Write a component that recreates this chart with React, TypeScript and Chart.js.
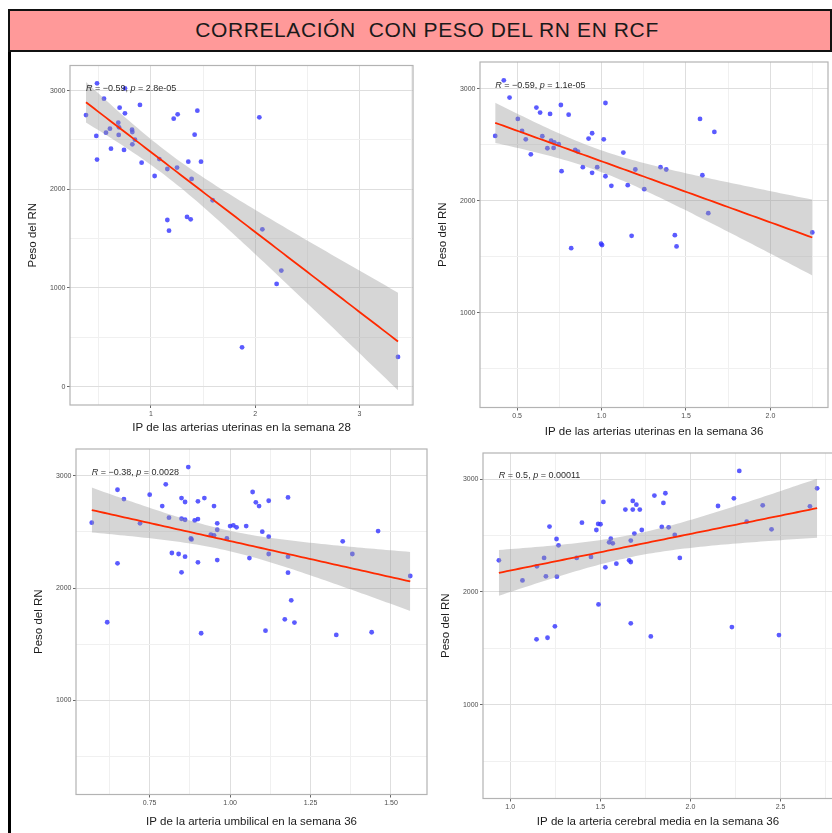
import React, { useEffect, useRef } from 'react';
import { Chart, registerables } from 'chart.js';

Chart.register(...registerables);

// ---------------- DATA ----------------
const titleText = 'CORRELACIÓN  CON PESO DEL RN EN RCF';
const yTitle = 'Peso del RN';

// Panel 1: IP arterias uterinas semana 28
const p1X = [0.376, 0.482, 0.549, 0.475, 0.482, 0.568, 0.606, 0.616, 0.686, 0.690, 0.699, 0.693, 0.750, 0.741, 0.750, 0.818, 0.821, 0.821, 0.846, 0.894, 0.910, 1.035, 1.080, 1.157, 1.157, 1.173, 1.218, 1.256, 1.250, 1.358, 1.346, 1.381, 1.390, 1.419, 1.445, 1.480, 1.592, 2.040, 2.069, 1.874, 2.206, 2.251, 3.371];
const p1Y = [2753, 3074, 2919, 2541, 2301, 2574, 2615, 2412, 2676, 2551, 2828, 2628, 2770, 2399, 3024, 2605, 2581, 2456, 2503, 2855, 2270, 2135, 2307, 2206, 1689, 1581, 2716, 2760, 2220, 2280, 1720, 1696, 2105, 2554, 2797, 2280, 1889, 2730, 1595, 399, 1041, 1176, 301];
const p1XTitle = 'IP de las arterias uterinas en la semana 28';
const p1Label = ['R', ' = \u22120.59, ', 'p', ' = 2.8e-05'];
const p1XRange = [0.2226, 3.515];
const p1YRange = [-186, 3255];
const p1XMajor = [1, 2, 3];
const p1XMajorLabels = ['1', '2', '3'];
const p1XMinor = [0.5, 1.5, 2.5, 3.5];
const p1YMajor = [0, 1000, 2000, 3000];
const p1YMajorLabels = ['0', '1000', '2000', '3000'];
const p1YMinor = [500, 1500, 2500];

// Panel 2: IP arterias uterinas semana 36
const p2X = [0.370, 0.421, 0.455, 0.504, 0.529, 0.551, 0.581, 0.614, 0.636, 0.649, 0.679, 0.695, 0.701, 0.716, 0.720, 0.746, 0.759, 0.763, 0.805, 0.820, 0.844, 0.860, 0.889, 0.923, 0.944, 0.944, 0.974, 0.997, 1.003, 1.013, 1.023, 1.023, 1.058, 1.129, 1.155, 1.178, 1.200, 1.253, 1.349, 1.383, 1.434, 1.444, 1.583, 1.597, 1.632, 1.668, 2.248];
const p2Y = [2581, 3077, 2923, 2733, 2626, 2551, 2417, 2834, 2789, 2578, 2471, 2777, 2539, 2474, 2524, 2507, 2857, 2266, 2771, 1579, 2456, 2441, 2302, 2557, 2605, 2251, 2302, 1618, 1606, 2551, 2875, 2221, 2135, 2432, 2141, 1689, 2281, 2105, 2302, 2281, 1695, 1594, 2733, 2230, 1891, 2617, 1719];
const p2XTitle = 'IP de las arterias uterinas en la semana 36';
const p2Label = ['R', ' = \u22120.59, ', 'p', ' = 1.1e-05'];
const p2XRange = [0.28, 2.341];
const p2YRange = [156, 3241];
const p2XMajor = [0.5, 1.0, 1.5, 2.0];
const p2XMajorLabels = ['0.5', '1.0', '1.5', '2.0'];
const p2XMinor = [0.75, 1.25, 1.75, 2.25];
const p2YMajor = [1000, 2000, 3000];
const p2YMajorLabels = ['1000', '2000', '3000'];
const p2YMinor = [500, 1500, 2500];

// Panel 3: IP arteria umbilical semana 36
const p3X = [0.570, 0.618, 0.650, 0.650, 0.670, 0.720, 0.750, 0.789, 0.800, 0.810, 0.819, 0.840, 0.849, 0.849, 0.849, 0.860, 0.860, 0.860, 0.870, 0.880, 0.878, 0.890, 0.900, 0.900, 0.900, 0.910, 0.920, 0.940, 0.950, 0.950, 0.960, 0.960, 0.960, 0.990, 1.000, 1.010, 1.020, 1.050, 1.060, 1.070, 1.080, 1.090, 1.100, 1.110, 1.120, 1.120, 1.120, 1.170, 1.180, 1.180, 1.180, 1.190, 1.200, 1.330, 1.350, 1.380, 1.440, 1.460, 1.560];
const p3Y = [2582, 1695, 2875, 2220, 2792, 2576, 2831, 2730, 2923, 2626, 2312, 2303, 2801, 2617, 2140, 2766, 2608, 2279, 3077, 2433, 2442, 2602, 2772, 2614, 2229, 1597, 2801, 2475, 2730, 2469, 2576, 2519, 2249, 2442, 2552, 2558, 2540, 2552, 2267, 2855, 2763, 2730, 2502, 1620, 2777, 2457, 2303, 1721, 2807, 2279, 2137, 1890, 1692, 1582, 2416, 2303, 1606, 2507, 2107];
const p3XTitle = 'IP de la arteria umbilical en la semana 36';
const p3Label = ['R', ' = \u22120.38, ', 'p', ' = 0.0028'];
const p3XRange = [0.521, 1.612];
const p3YRange = [161, 3238];
const p3XMajor = [0.75, 1.0, 1.25, 1.5];
const p3XMajorLabels = ['0.75', '1.00', '1.25', '1.50'];
const p3XMinor = [0.625, 0.875, 1.125, 1.375];
const p3YMajor = [1000, 2000, 3000];
const p3YMajorLabels = ['1000', '2000', '3000'];
const p3YMinor = [500, 1500, 2500];

// Panel 4: IP arteria cerebral media semana 36
const p4X = [0.937, 1.068, 1.146, 1.148, 1.188, 1.198, 1.207, 1.218, 1.248, 1.257, 1.259, 1.268, 1.369, 1.398, 1.448, 1.478, 1.488, 1.490, 1.501, 1.517, 1.528, 1.549, 1.558, 1.569, 1.589, 1.639, 1.660, 1.669, 1.669, 1.669, 1.680, 1.680, 1.689, 1.700, 1.719, 1.730, 1.780, 1.800, 1.841, 1.850, 1.861, 1.879, 1.913, 1.941, 2.153, 2.230, 2.241, 2.271, 2.312, 2.401, 2.450, 2.491, 2.663, 2.703];
const p4Y = [2281, 2103, 1580, 2228, 2302, 2139, 1594, 2580, 1695, 2470, 2136, 2414, 2302, 2615, 2311, 2550, 2604, 1890, 2601, 2799, 2219, 2441, 2473, 2432, 2251, 2731, 2281, 2456, 2266, 1722, 2808, 2731, 2518, 2775, 2731, 2550, 1606, 2855, 2577, 2790, 2876, 2574, 2506, 2302, 2763, 1689, 2831, 3074, 2624, 2769, 2556, 1618, 2760, 2920];
const p4XTitle = 'IP de la arteria cerebral media en la semana 36';
const p4Label = ['R', ' = 0.5, ', 'p', ' = 0.00011'];
const p4XRange = [0.849, 2.791];
const p4YRange = [168, 3233];
const p4XMajor = [1.0, 1.5, 2.0, 2.5];
const p4XMajorLabels = ['1.0', '1.5', '2.0', '2.5'];
const p4XMinor = [1.25, 1.75, 2.25, 2.75];
const p4YMajor = [1000, 2000, 3000];
const p4YMajorLabels = ['1000', '2000', '3000'];
const p4YMinor = [500, 1500, 2500];

// ---------------- LAYOUT (positions / styles) ----------------
const FONT = "'Liberation Sans', Arial, sans-serif";

type Box = { left: number; top: number; w: number; h: number; l: number; t: number; r: number; b: number; yTitleX: number; xTitleY: number };

const layouts: Box[] = [
  { left: 14, top: 50, w: 406, h: 390, l: 70, t: 65.5, r: 413, b: 405, yTitleX: 33, xTitleY: 428 },
  { left: 424, top: 50, w: 408, h: 392, l: 480, t: 62, r: 829.5, b: 407.5, yTitleX: 442.5, xTitleY: 432 },
  { left: 20, top: 440, w: 412, h: 393, l: 76, t: 449, r: 427, b: 794.5, yTitleX: 39, xTitleY: 822 },
  { left: 427, top: 444, w: 412, h: 389, l: 483, t: 453, r: 833, b: 798.5, yTitleX: 446, xTitleY: 822 },
];

type Panel = {
  xs: number[]; ys: number[]; xTitle: string; label: string[];
  xRange: number[]; yRange: number[];
  xMajor: number[]; xMajorLabels: string[]; xMinor: number[];
  yMajor: number[]; yMajorLabels: string[]; yMinor: number[];
};

const panels: Panel[] = [
  { xs: p1X, ys: p1Y, xTitle: p1XTitle, label: p1Label, xRange: p1XRange, yRange: p1YRange, xMajor: p1XMajor, xMajorLabels: p1XMajorLabels, xMinor: p1XMinor, yMajor: p1YMajor, yMajorLabels: p1YMajorLabels, yMinor: p1YMinor },
  { xs: p2X, ys: p2Y, xTitle: p2XTitle, label: p2Label, xRange: p2XRange, yRange: p2YRange, xMajor: p2XMajor, xMajorLabels: p2XMajorLabels, xMinor: p2XMinor, yMajor: p2YMajor, yMajorLabels: p2YMajorLabels, yMinor: p2YMinor },
  { xs: p3X, ys: p3Y, xTitle: p3XTitle, label: p3Label, xRange: p3XRange, yRange: p3YRange, xMajor: p3XMajor, xMajorLabels: p3XMajorLabels, xMinor: p3XMinor, yMajor: p3YMajor, yMajorLabels: p3YMajorLabels, yMinor: p3YMinor },
  { xs: p4X, ys: p4Y, xTitle: p4XTitle, label: p4Label, xRange: p4XRange, yRange: p4YRange, xMajor: p4XMajor, xMajorLabels: p4XMajorLabels, xMinor: p4XMinor, yMajor: p4YMajor, yMajorLabels: p4YMajorLabels, yMinor: p4YMinor },
];

// Linear model fit with 95% confidence band (as in geom_smooth(method = "lm"))
function fitBand(xs: number[], ys: number[], nOut = 80) {
  const n = xs.length;
  const mx = xs.reduce((a, v) => a + v, 0) / n;
  const my = ys.reduce((a, v) => a + v, 0) / n;
  let sxx = 0, sxy = 0;
  for (let i = 0; i < n; i++) {
    sxx += (xs[i] - mx) * (xs[i] - mx);
    sxy += (xs[i] - mx) * (ys[i] - my);
  }
  const b = sxy / sxx;
  const a = my - b * mx;
  let sse = 0;
  for (let i = 0; i < n; i++) {
    const e = ys[i] - (a + b * xs[i]);
    sse += e * e;
  }
  const df = n - 2;
  const s = Math.sqrt(sse / df);
  const t = 1.959964 + 2.372 / df + 2.82 / (df * df);
  const xmin = Math.min(...xs);
  const xmax = Math.max(...xs);
  const line: { x: number; y: number }[] = [];
  const upper: { x: number; y: number }[] = [];
  const lower: { x: number; y: number }[] = [];
  for (let i = 0; i < nOut; i++) {
    const x0 = xmin + ((xmax - xmin) * i) / (nOut - 1);
    const yh = a + b * x0;
    const se = s * Math.sqrt(1 / n + ((x0 - mx) * (x0 - mx)) / sxx);
    line.push({ x: x0, y: yh });
    upper.push({ x: x0, y: yh + t * se });
    lower.push({ x: x0, y: yh - t * se });
  }
  return { line, upper, lower };
}

const near = (arr: number[], v: number) => arr.findIndex((m) => Math.abs(m - v) < 1e-9);

const panelBorder = {
  id: 'panelBorder',
  afterDatasetsDraw(chart: any) {
    const { ctx, chartArea } = chart;
    const { left, top, right, bottom } = chartArea;
    ctx.save();
    ctx.strokeStyle = '#B3B3B3';
    ctx.lineWidth = 1.2;
    ctx.strokeRect(left, top, right - left, bottom - top);
    ctx.restore();
  },
};

const corLabel = {
  id: 'corLabel',
  afterDatasetsDraw(chart: any, _args: any, opts: any) {
    if (!opts || !opts.parts) return;
    const { ctx } = chart;
    const xs = chart.scales.x;
    const ys = chart.scales.y;
    let px = xs.getPixelForValue(opts.x);
    const py = ys.getPixelForValue(opts.y) + 0.5;
    ctx.save();
    ctx.fillStyle = '#2b2b2b';
    ctx.textBaseline = 'top';
    ctx.textAlign = 'left';
    opts.parts.forEach((p: string, i: number) => {
      ctx.font = (i % 2 === 0 ? 'italic ' : '') + '9px ' + FONT;
      ctx.fillText(p, px, py);
      px += ctx.measureText(p).width;
    });
    ctx.restore();
  },
};

function makeConfig(p: Panel, box: Box): any {
  const pts = p.xs.map((x, i) => ({ x, y: p.ys[i] }));
  const fit = fitBand(p.xs, p.ys);
  const yAxisW = box.l - box.left;
  const xAxisH = box.top + box.h - box.b;
  const titleSize = 11.5;
  const xTicks = [...p.xMajor, ...p.xMinor].sort((a, b) => a - b);
  const yTicks = [...p.yMajor, ...p.yMinor].sort((a, b) => a - b);
  const gridColor = (major: number[]) => (c: any) =>
    c.tick && near(major, c.tick.value) >= 0 ? '#DEDEDE' : '#F0F0F0';
  const tickColor = (major: number[]) => (c: any) =>
    c.tick && near(major, c.tick.value) >= 0 ? '#666666' : 'rgba(0,0,0,0)';
  return {
    type: 'scatter',
    data: {
      datasets: [
        { type: 'line', data: fit.lower, showLine: true, borderWidth: 0, pointRadius: 0, fill: false, order: 1 },
        { type: 'line', data: fit.upper, showLine: true, borderWidth: 0, pointRadius: 0, fill: '-1', backgroundColor: 'rgba(153,153,153,0.4)', order: 1 },
        { type: 'line', data: fit.line, showLine: true, borderColor: '#FF2A00', borderWidth: 1.8, pointRadius: 0, fill: false, order: 0 },
        { type: 'scatter', data: pts, pointRadius: 2.4, pointBackgroundColor: 'rgba(50,50,255,0.8)', backgroundColor: 'rgba(50,50,255,0.8)', borderWidth: 0, pointBorderWidth: 0, order: 2 },
      ],
    },
    options: {
      responsive: false,
      animation: false,
      events: [],
      layout: { padding: { left: 0, top: box.t - box.top, right: box.left + box.w - box.r, bottom: 0 } },
      plugins: {
        legend: { display: false },
        tooltip: { enabled: false },
        corLabel: { parts: p.label, x: Math.min(...p.xs), y: Math.max(...p.ys) },
      },
      scales: {
        x: {
          type: 'linear',
          min: p.xRange[0],
          max: p.xRange[1],
          afterBuildTicks: (s: any) => { s.ticks = xTicks.map((v) => ({ value: v })); },
          afterFit: (s: any) => { s.height = xAxisH; },
          ticks: {
            autoSkip: false,
            maxRotation: 0,
            minRotation: 0,
            padding: 1.5,
            color: '#4D4D4D',
            font: { size: 7, family: FONT },
            callback: (v: number) => { const k = near(p.xMajor, v); return k >= 0 ? p.xMajorLabels[k] : ''; },
          },
          grid: { color: gridColor(p.xMajor), lineWidth: 1, drawTicks: true, tickLength: 3, tickColor: tickColor(p.xMajor), tickWidth: 1 },
          border: { display: false },
          title: {
            display: true,
            text: p.xTitle,
            color: '#1A1A1A',
            font: { size: titleSize, family: FONT, lineHeight: 1 },
            padding: { top: 0, bottom: box.top + box.h - box.xTitleY - titleSize / 2 },
          },
        },
        y: {
          type: 'linear',
          min: p.yRange[0],
          max: p.yRange[1],
          afterBuildTicks: (s: any) => { s.ticks = yTicks.map((v) => ({ value: v })); },
          afterFit: (s: any) => { s.width = yAxisW; },
          ticks: {
            autoSkip: false,
            padding: 1.5,
            color: '#4D4D4D',
            font: { size: 7, family: FONT },
            callback: (v: number) => { const k = near(p.yMajor, v); return k >= 0 ? p.yMajorLabels[k] : ''; },
          },
          grid: { color: gridColor(p.yMajor), lineWidth: 1, drawTicks: true, tickLength: 3, tickColor: tickColor(p.yMajor), tickWidth: 1 },
          border: { display: false },
          title: {
            display: true,
            text: yTitle,
            color: '#1A1A1A',
            font: { size: titleSize, family: FONT, lineHeight: 1 },
            padding: { top: box.yTitleX - box.left - titleSize / 2, bottom: 0 },
          },
        },
      },
    },
    plugins: [panelBorder, corLabel],
  };
}

function ScatterPanel({ panel, box }: { panel: Panel; box: Box }) {
  const ref = useRef<HTMLCanvasElement | null>(null);
  useEffect(() => {
    if (!ref.current) return;
    const chart = new Chart(ref.current, makeConfig(panel, box));
    return () => chart.destroy();
  }, [panel, box]);
  return (
    <canvas
      ref={ref}
      width={box.w}
      height={box.h}
      style={{ position: 'absolute', left: box.left, top: box.top, width: box.w, height: box.h }}
    />
  );
}

export default function App() {
  return (
    <div style={{ position: 'absolute', left: 0, top: 0, width: 832, height: 833, overflow: 'hidden', background: '#ffffff' }}>
      <div style={{ position: 'absolute', left: 8, top: 9, width: 3, height: 824, background: '#000' }} />
      <div
        style={{
          position: 'absolute', left: 8, top: 8.5, width: 824, height: 43.5, boxSizing: 'border-box',
          background: '#FF9999', border: '2px solid #111',
        }}
      />
      <div
        style={{
          position: 'absolute', left: 8, top: 8.5, width: 838, height: 43.5, display: 'flex',
          alignItems: 'center', justifyContent: 'center', fontFamily: FONT, fontSize: 21,
          letterSpacing: 0.6, color: '#1a1a1a', whiteSpace: 'pre',
        }}
      >
        {titleText}
      </div>
      {panels.map((p, i) => (
        <ScatterPanel key={i} panel={p} box={layouts[i]} />
      ))}
    </div>
  );
}
